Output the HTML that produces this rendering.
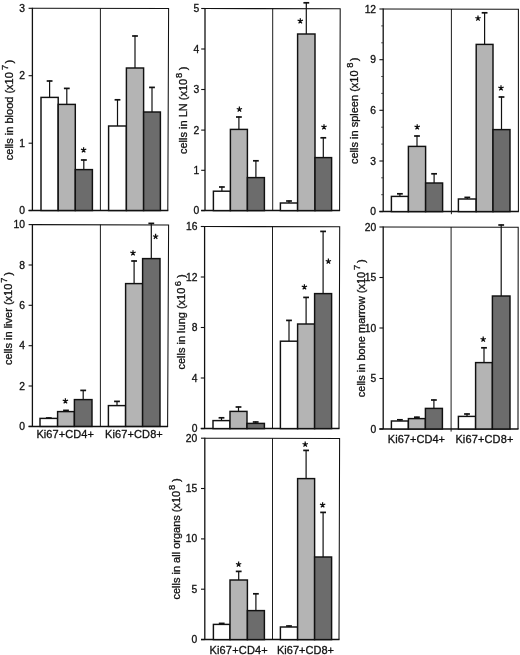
<!DOCTYPE html>
<html><head><meta charset="utf-8"><title>Ki67 cell counts</title>
<style>
html,body{margin:0;padding:0;background:#fff;}
svg{display:block;filter:grayscale(1);}
text{font-family:"Liberation Sans",sans-serif;fill:#111;stroke:#111;stroke-width:0.3px;}
.t{font-size:10.3px;}
.yl{font-size:11px;}
.sup{font-size:9.3px;}
.xl{font-size:11px;}
</style></head><body>
<svg width="520" height="655" viewBox="0 0 520 655">
<rect width="520" height="655" fill="#fff"/>
<g id="blood"><path d="M32.4 8.3L168.6 8.600000000000001L167.8 210.5" fill="none" stroke="#111" stroke-width="1.05" stroke-linejoin="miter"/><path d="M32.4 7.800000000000001L32.4 210.5" fill="none" stroke="#111" stroke-width="1.3"/><path d="M28.599999999999998 210.5L168.3 210.5" fill="none" stroke="#111" stroke-width="1.5"/><line x1="100.4" y1="8.3" x2="100.4" y2="210.5" stroke="#111" stroke-width="0.95"/><line x1="28.599999999999998" y1="210.5" x2="32.4" y2="210.5" stroke="#111" stroke-width="1.1"/><text x="25.0" y="214.0" text-anchor="end" class="t">0</text><line x1="28.599999999999998" y1="143.2" x2="32.4" y2="143.2" stroke="#111" stroke-width="1.1"/><text x="25.0" y="146.7" text-anchor="end" class="t">1</text><line x1="28.599999999999998" y1="75.7" x2="32.4" y2="75.7" stroke="#111" stroke-width="1.1"/><text x="25.0" y="79.2" text-anchor="end" class="t">2</text><line x1="28.599999999999998" y1="8.3" x2="32.4" y2="8.3" stroke="#111" stroke-width="1.1"/><text x="25.0" y="11.8" text-anchor="end" class="t">3</text><line x1="49.6" y1="97.4" x2="49.6" y2="80.6" stroke="#111" stroke-width="1.2"/><line x1="46.7" y1="81.0" x2="52.5" y2="81.0" stroke="#111" stroke-width="1.7"/><rect x="41" y="97.4" width="17.2" height="113.1" fill="#ffffff" stroke="#111" stroke-width="1.45"/><line x1="66.8" y1="104.4" x2="66.8" y2="88" stroke="#111" stroke-width="1.2"/><line x1="63.9" y1="88.4" x2="69.7" y2="88.4" stroke="#111" stroke-width="1.7"/><rect x="58.2" y="104.4" width="17.1" height="106.1" fill="#b4b4b4" stroke="#111" stroke-width="1.45"/><line x1="83.8" y1="169.6" x2="83.8" y2="159.6" stroke="#111" stroke-width="1.2"/><line x1="80.9" y1="160.0" x2="86.8" y2="160.0" stroke="#111" stroke-width="1.7"/><rect x="75.3" y="169.6" width="17.1" height="40.9" fill="#6c6c6c" stroke="#111" stroke-width="1.45"/><line x1="117.5" y1="126" x2="117.5" y2="99.4" stroke="#111" stroke-width="1.2"/><line x1="114.6" y1="99.8" x2="120.4" y2="99.8" stroke="#111" stroke-width="1.7"/><rect x="108.6" y="126" width="17.8" height="84.5" fill="#ffffff" stroke="#111" stroke-width="1.45"/><line x1="135.0" y1="68" x2="135.0" y2="35.6" stroke="#111" stroke-width="1.2"/><line x1="132.1" y1="36.0" x2="137.9" y2="36.0" stroke="#111" stroke-width="1.7"/><rect x="126.4" y="68" width="17.2" height="142.5" fill="#b4b4b4" stroke="#111" stroke-width="1.45"/><line x1="152.0" y1="112" x2="152.0" y2="87" stroke="#111" stroke-width="1.2"/><line x1="149.1" y1="87.4" x2="154.9" y2="87.4" stroke="#111" stroke-width="1.7"/><rect x="143.6" y="112" width="16.8" height="98.5" fill="#6c6c6c" stroke="#111" stroke-width="1.45"/><path d="M83.60 150.00L83.60 147.20M83.60 150.00L86.26 149.13M83.60 150.00L85.25 152.27M83.60 150.00L81.95 152.27M83.60 150.00L80.94 149.13" stroke="#111" stroke-width="1.25" fill="none" stroke-linecap="butt"/><circle cx="83.60" cy="150.00" r="0.9" fill="#111"/><text transform="translate(12.8 160.2) rotate(-90)" class="yl">cells in blood (x10<tspan x="90.1" dy="-4.8" class="sup">7</tspan><tspan x="96.7" dy="4.8">)</tspan></text></g>
<g id="LN"><path d="M205 8.5L340.2 8.8L339.6 210.6" fill="none" stroke="#111" stroke-width="1.05" stroke-linejoin="miter"/><path d="M205 8.0L205 210.6" fill="none" stroke="#111" stroke-width="1.3"/><path d="M201.2 210.6L340.1 210.6" fill="none" stroke="#111" stroke-width="1.5"/><line x1="272.7" y1="8.5" x2="272.7" y2="210.6" stroke="#111" stroke-width="0.95"/><line x1="201.2" y1="210.6" x2="205" y2="210.6" stroke="#111" stroke-width="1.1"/><text x="199.3" y="214.1" text-anchor="end" class="t">0</text><line x1="201.2" y1="170.3" x2="205" y2="170.3" stroke="#111" stroke-width="1.1"/><text x="199.3" y="173.8" text-anchor="end" class="t">1</text><line x1="201.2" y1="130.1" x2="205" y2="130.1" stroke="#111" stroke-width="1.1"/><text x="199.3" y="133.6" text-anchor="end" class="t">2</text><line x1="201.2" y1="89.5" x2="205" y2="89.5" stroke="#111" stroke-width="1.1"/><text x="199.3" y="93.0" text-anchor="end" class="t">3</text><line x1="201.2" y1="49" x2="205" y2="49" stroke="#111" stroke-width="1.1"/><text x="199.3" y="52.5" text-anchor="end" class="t">4</text><line x1="201.2" y1="8.5" x2="205" y2="8.5" stroke="#111" stroke-width="1.1"/><text x="199.3" y="12.0" text-anchor="end" class="t">5</text><line x1="221.9" y1="191.2" x2="221.9" y2="186.6" stroke="#111" stroke-width="1.2"/><line x1="219.0" y1="187.0" x2="224.8" y2="187.0" stroke="#111" stroke-width="1.7"/><rect x="213.4" y="191.2" width="17.0" height="19.4" fill="#ffffff" stroke="#111" stroke-width="1.45"/><line x1="238.9" y1="129.4" x2="238.9" y2="116.6" stroke="#111" stroke-width="1.2"/><line x1="236.0" y1="117.0" x2="241.8" y2="117.0" stroke="#111" stroke-width="1.7"/><rect x="230.4" y="129.4" width="17.0" height="81.2" fill="#b4b4b4" stroke="#111" stroke-width="1.45"/><line x1="255.9" y1="177.6" x2="255.9" y2="160.4" stroke="#111" stroke-width="1.2"/><line x1="253.0" y1="160.8" x2="258.8" y2="160.8" stroke="#111" stroke-width="1.7"/><rect x="247.4" y="177.6" width="17.0" height="33.0" fill="#6c6c6c" stroke="#111" stroke-width="1.45"/><line x1="289.0" y1="203" x2="289.0" y2="200.6" stroke="#111" stroke-width="1.2"/><line x1="286.1" y1="201.0" x2="291.9" y2="201.0" stroke="#111" stroke-width="1.7"/><rect x="280.4" y="203" width="17.2" height="7.6" fill="#ffffff" stroke="#111" stroke-width="1.45"/><line x1="306.3" y1="34" x2="306.3" y2="2.4" stroke="#111" stroke-width="1.2"/><line x1="303.4" y1="2.8" x2="309.2" y2="2.8" stroke="#111" stroke-width="1.7"/><rect x="297.6" y="34" width="17.4" height="176.6" fill="#b4b4b4" stroke="#111" stroke-width="1.45"/><line x1="323.3" y1="157.6" x2="323.3" y2="137.4" stroke="#111" stroke-width="1.2"/><line x1="320.4" y1="137.8" x2="326.2" y2="137.8" stroke="#111" stroke-width="1.7"/><rect x="315" y="157.6" width="16.6" height="53.0" fill="#6c6c6c" stroke="#111" stroke-width="1.45"/><path d="M239.40 109.40L239.40 106.60M239.40 109.40L242.06 108.53M239.40 109.40L241.05 111.67M239.40 109.40L237.75 111.67M239.40 109.40L236.74 108.53" stroke="#111" stroke-width="1.25" fill="none" stroke-linecap="butt"/><circle cx="239.40" cy="109.40" r="0.9" fill="#111"/><path d="M300.30 21.00L300.30 18.20M300.30 21.00L302.96 20.13M300.30 21.00L301.95 23.27M300.30 21.00L298.65 23.27M300.30 21.00L297.64 20.13" stroke="#111" stroke-width="1.25" fill="none" stroke-linecap="butt"/><circle cx="300.30" cy="21.00" r="0.9" fill="#111"/><path d="M324.00 127.00L324.00 124.20M324.00 127.00L326.66 126.13M324.00 127.00L325.65 129.27M324.00 127.00L322.35 129.27M324.00 127.00L321.34 126.13" stroke="#111" stroke-width="1.25" fill="none" stroke-linecap="butt"/><circle cx="324.00" cy="127.00" r="0.9" fill="#111"/><text transform="translate(186.9 154) rotate(-90)" class="yl">cells in LN (x10<tspan x="76.1" dy="-4.8" class="sup">8</tspan><tspan x="83.7" dy="4.8">)</tspan></text></g>
<g id="spleen"><path d="M383.2 9L518.4 9.3L518.4 211.6" fill="none" stroke="#111" stroke-width="1.05" stroke-linejoin="miter"/><path d="M383.2 8.5L383.2 211.6" fill="none" stroke="#111" stroke-width="1.3"/><path d="M379.4 211.6L518.9 211.6" fill="none" stroke="#111" stroke-width="1.5"/><line x1="451.4" y1="9" x2="451.4" y2="214.2" stroke="#111" stroke-width="0.95"/><line x1="379.4" y1="211.6" x2="383.2" y2="211.6" stroke="#111" stroke-width="1.1"/><text x="376.1" y="215.1" text-anchor="end" class="t">0</text><line x1="379.4" y1="161" x2="383.2" y2="161" stroke="#111" stroke-width="1.1"/><text x="376.1" y="164.5" text-anchor="end" class="t">3</text><line x1="379.4" y1="110.3" x2="383.2" y2="110.3" stroke="#111" stroke-width="1.1"/><text x="376.1" y="113.8" text-anchor="end" class="t">6</text><line x1="379.4" y1="59.7" x2="383.2" y2="59.7" stroke="#111" stroke-width="1.1"/><text x="376.1" y="63.2" text-anchor="end" class="t">9</text><line x1="379.4" y1="9" x2="383.2" y2="9" stroke="#111" stroke-width="1.1"/><text x="376.1" y="12.5" text-anchor="end" class="t">12</text><line x1="381.2" y1="194.7" x2="383.2" y2="194.7" stroke="#222" stroke-width="0.8"/><line x1="381.2" y1="177.8" x2="383.2" y2="177.8" stroke="#222" stroke-width="0.8"/><line x1="381.2" y1="144.1" x2="383.2" y2="144.1" stroke="#222" stroke-width="0.8"/><line x1="381.2" y1="127.2" x2="383.2" y2="127.2" stroke="#222" stroke-width="0.8"/><line x1="381.2" y1="93.4" x2="383.2" y2="93.4" stroke="#222" stroke-width="0.8"/><line x1="381.2" y1="76.5" x2="383.2" y2="76.5" stroke="#222" stroke-width="0.8"/><line x1="381.2" y1="42.8" x2="383.2" y2="42.8" stroke="#222" stroke-width="0.8"/><line x1="381.2" y1="25.9" x2="383.2" y2="25.9" stroke="#222" stroke-width="0.8"/><line x1="399.9" y1="196.4" x2="399.9" y2="193.4" stroke="#111" stroke-width="1.2"/><line x1="397.0" y1="193.8" x2="402.8" y2="193.8" stroke="#111" stroke-width="1.7"/><rect x="391.4" y="196.4" width="17.0" height="15.2" fill="#ffffff" stroke="#111" stroke-width="1.45"/><line x1="417.0" y1="146.4" x2="417.0" y2="135.6" stroke="#111" stroke-width="1.2"/><line x1="414.1" y1="136.0" x2="419.9" y2="136.0" stroke="#111" stroke-width="1.7"/><rect x="408.4" y="146.4" width="17.2" height="65.2" fill="#b4b4b4" stroke="#111" stroke-width="1.45"/><line x1="434.1" y1="183" x2="434.1" y2="173.4" stroke="#111" stroke-width="1.2"/><line x1="431.2" y1="173.8" x2="437.0" y2="173.8" stroke="#111" stroke-width="1.7"/><rect x="425.6" y="183" width="17.0" height="28.6" fill="#6c6c6c" stroke="#111" stroke-width="1.45"/><line x1="467.3" y1="199" x2="467.3" y2="197" stroke="#111" stroke-width="1.2"/><line x1="464.4" y1="197.4" x2="470.2" y2="197.4" stroke="#111" stroke-width="1.7"/><rect x="458.4" y="199" width="17.8" height="12.6" fill="#ffffff" stroke="#111" stroke-width="1.45"/><line x1="484.6" y1="44.4" x2="484.6" y2="12.4" stroke="#111" stroke-width="1.2"/><line x1="481.7" y1="12.8" x2="487.5" y2="12.8" stroke="#111" stroke-width="1.7"/><rect x="476.2" y="44.4" width="16.8" height="167.2" fill="#b4b4b4" stroke="#111" stroke-width="1.45"/><line x1="501.5" y1="129.6" x2="501.5" y2="96.6" stroke="#111" stroke-width="1.2"/><line x1="498.6" y1="97.0" x2="504.4" y2="97.0" stroke="#111" stroke-width="1.7"/><rect x="493" y="129.6" width="17.0" height="82.0" fill="#6c6c6c" stroke="#111" stroke-width="1.45"/><path d="M417.20 127.00L417.20 124.20M417.20 127.00L419.86 126.13M417.20 127.00L418.85 129.27M417.20 127.00L415.55 129.27M417.20 127.00L414.54 126.13" stroke="#111" stroke-width="1.25" fill="none" stroke-linecap="butt"/><circle cx="417.20" cy="127.00" r="0.9" fill="#111"/><path d="M478.00 18.40L478.00 15.60M478.00 18.40L480.66 17.53M478.00 18.40L479.65 20.67M478.00 18.40L476.35 20.67M478.00 18.40L475.34 17.53" stroke="#111" stroke-width="1.25" fill="none" stroke-linecap="butt"/><circle cx="478.00" cy="18.40" r="0.9" fill="#111"/><path d="M501.00 88.00L501.00 85.20M501.00 88.00L503.66 87.13M501.00 88.00L502.65 90.27M501.00 88.00L499.35 90.27M501.00 88.00L498.34 87.13" stroke="#111" stroke-width="1.25" fill="none" stroke-linecap="butt"/><circle cx="501.00" cy="88.00" r="0.9" fill="#111"/><text transform="translate(358.0 164) rotate(-90)" class="yl">cells in spleen (x10<tspan x="96.2" dy="-4.8" class="sup">8</tspan><tspan x="102.8" dy="4.8">)</tspan></text></g>
<g id="liver"><path d="M32.4 224.6L168.6 224.9L167.6 426.4" fill="none" stroke="#111" stroke-width="1.05" stroke-linejoin="miter"/><path d="M32.4 224.1L32.4 426.4" fill="none" stroke="#111" stroke-width="1.3"/><path d="M28.599999999999998 426.4L168.1 426.4" fill="none" stroke="#111" stroke-width="1.5"/><line x1="100.4" y1="224.6" x2="100.4" y2="426.4" stroke="#111" stroke-width="0.95"/><line x1="28.599999999999998" y1="426.4" x2="32.4" y2="426.4" stroke="#111" stroke-width="1.1"/><text x="25.0" y="429.9" text-anchor="end" class="t">0</text><line x1="28.599999999999998" y1="386" x2="32.4" y2="386" stroke="#111" stroke-width="1.1"/><text x="25.0" y="389.5" text-anchor="end" class="t">2</text><line x1="28.599999999999998" y1="345.7" x2="32.4" y2="345.7" stroke="#111" stroke-width="1.1"/><text x="25.0" y="349.2" text-anchor="end" class="t">4</text><line x1="28.599999999999998" y1="305.3" x2="32.4" y2="305.3" stroke="#111" stroke-width="1.1"/><text x="25.0" y="308.8" text-anchor="end" class="t">6</text><line x1="28.599999999999998" y1="265" x2="32.4" y2="265" stroke="#111" stroke-width="1.1"/><text x="25.0" y="268.5" text-anchor="end" class="t">8</text><line x1="28.599999999999998" y1="224.6" x2="32.4" y2="224.6" stroke="#111" stroke-width="1.1"/><text x="25.0" y="228.1" text-anchor="end" class="t">10</text><line x1="48.8" y1="418.4" x2="48.8" y2="417.6" stroke="#111" stroke-width="1.2"/><line x1="45.9" y1="418.0" x2="51.7" y2="418.0" stroke="#111" stroke-width="1.7"/><rect x="40" y="418.4" width="17.6" height="8.0" fill="#ffffff" stroke="#111" stroke-width="1.45"/><line x1="66.0" y1="411.6" x2="66.0" y2="410" stroke="#111" stroke-width="1.2"/><line x1="63.1" y1="410.4" x2="68.9" y2="410.4" stroke="#111" stroke-width="1.7"/><rect x="57.6" y="411.6" width="16.8" height="14.8" fill="#b4b4b4" stroke="#111" stroke-width="1.45"/><line x1="83.2" y1="399.6" x2="83.2" y2="390" stroke="#111" stroke-width="1.2"/><line x1="80.3" y1="390.4" x2="86.1" y2="390.4" stroke="#111" stroke-width="1.7"/><rect x="74.4" y="399.6" width="17.6" height="26.8" fill="#6c6c6c" stroke="#111" stroke-width="1.45"/><line x1="117.0" y1="405.6" x2="117.0" y2="401" stroke="#111" stroke-width="1.2"/><line x1="114.1" y1="401.4" x2="119.9" y2="401.4" stroke="#111" stroke-width="1.7"/><rect x="108.4" y="405.6" width="17.2" height="20.8" fill="#ffffff" stroke="#111" stroke-width="1.45"/><line x1="134.1" y1="283.6" x2="134.1" y2="260.6" stroke="#111" stroke-width="1.2"/><line x1="131.2" y1="261.0" x2="137.0" y2="261.0" stroke="#111" stroke-width="1.7"/><rect x="125.6" y="283.6" width="17.0" height="142.8" fill="#b4b4b4" stroke="#111" stroke-width="1.45"/><line x1="151.3" y1="258.6" x2="151.3" y2="223" stroke="#111" stroke-width="1.2"/><line x1="148.4" y1="223.4" x2="154.2" y2="223.4" stroke="#111" stroke-width="1.7"/><rect x="142.6" y="258.6" width="17.4" height="167.8" fill="#6c6c6c" stroke="#111" stroke-width="1.45"/><path d="M65.40 401.00L65.40 398.20M65.40 401.00L68.06 400.13M65.40 401.00L67.05 403.27M65.40 401.00L63.75 403.27M65.40 401.00L62.74 400.13" stroke="#111" stroke-width="1.25" fill="none" stroke-linecap="butt"/><circle cx="65.40" cy="401.00" r="0.9" fill="#111"/><path d="M133.00 253.00L133.00 250.20M133.00 253.00L135.66 252.13M133.00 253.00L134.65 255.27M133.00 253.00L131.35 255.27M133.00 253.00L130.34 252.13" stroke="#111" stroke-width="1.25" fill="none" stroke-linecap="butt"/><circle cx="133.00" cy="253.00" r="0.9" fill="#111"/><path d="M155.60 236.60L155.60 233.80M155.60 236.60L158.26 235.73M155.60 236.60L157.25 238.87M155.60 236.60L153.95 238.87M155.60 236.60L152.94 235.73" stroke="#111" stroke-width="1.25" fill="none" stroke-linecap="butt"/><circle cx="155.60" cy="236.60" r="0.9" fill="#111"/><text transform="translate(12.2 365) rotate(-90)" class="yl">cells in liver (x10<tspan x="82.2" dy="-4.8" class="sup">7</tspan><tspan x="89.2" dy="4.8">)</tspan></text><text x="36.4" y="438.4" class="xl" textLength="57.6" lengthAdjust="spacing">Ki67+CD4+</text><text x="105.0" y="438.4" class="xl" textLength="57.8" lengthAdjust="spacing">Ki67+CD8+</text></g>
<g id="lung"><path d="M204.6 226.5L339.7 226.8L339 428.6" fill="none" stroke="#111" stroke-width="1.05" stroke-linejoin="miter"/><path d="M204.6 226.0L204.6 428.6" fill="none" stroke="#111" stroke-width="1.3"/><path d="M200.79999999999998 428.6L339.5 428.6" fill="none" stroke="#111" stroke-width="1.5"/><line x1="272.5" y1="226.5" x2="272.5" y2="428.6" stroke="#111" stroke-width="0.95"/><line x1="200.79999999999998" y1="428.6" x2="204.6" y2="428.6" stroke="#111" stroke-width="1.1"/><text x="197.4" y="432.1" text-anchor="end" class="t">0</text><line x1="200.79999999999998" y1="378" x2="204.6" y2="378" stroke="#111" stroke-width="1.1"/><text x="197.4" y="381.5" text-anchor="end" class="t">4</text><line x1="200.79999999999998" y1="327.5" x2="204.6" y2="327.5" stroke="#111" stroke-width="1.1"/><text x="197.4" y="331.0" text-anchor="end" class="t">8</text><line x1="200.79999999999998" y1="277" x2="204.6" y2="277" stroke="#111" stroke-width="1.1"/><text x="197.4" y="280.5" text-anchor="end" class="t">12</text><line x1="200.79999999999998" y1="226.5" x2="204.6" y2="226.5" stroke="#111" stroke-width="1.1"/><text x="197.4" y="230.0" text-anchor="end" class="t">16</text><line x1="221.5" y1="420.6" x2="221.5" y2="417.4" stroke="#111" stroke-width="1.2"/><line x1="218.6" y1="417.8" x2="224.4" y2="417.8" stroke="#111" stroke-width="1.7"/><rect x="213" y="420.6" width="17.0" height="8.0" fill="#ffffff" stroke="#111" stroke-width="1.45"/><line x1="238.5" y1="411.4" x2="238.5" y2="406.6" stroke="#111" stroke-width="1.2"/><line x1="235.6" y1="407.0" x2="241.4" y2="407.0" stroke="#111" stroke-width="1.7"/><rect x="230" y="411.4" width="17.0" height="17.2" fill="#b4b4b4" stroke="#111" stroke-width="1.45"/><line x1="255.7" y1="423.4" x2="255.7" y2="421.6" stroke="#111" stroke-width="1.2"/><line x1="252.8" y1="422.0" x2="258.6" y2="422.0" stroke="#111" stroke-width="1.7"/><rect x="247" y="423.4" width="17.4" height="5.2" fill="#6c6c6c" stroke="#111" stroke-width="1.45"/><line x1="289.0" y1="341.2" x2="289.0" y2="320" stroke="#111" stroke-width="1.2"/><line x1="286.1" y1="320.4" x2="291.9" y2="320.4" stroke="#111" stroke-width="1.7"/><rect x="280.4" y="341.2" width="17.2" height="87.4" fill="#ffffff" stroke="#111" stroke-width="1.45"/><line x1="306.1" y1="324" x2="306.1" y2="297" stroke="#111" stroke-width="1.2"/><line x1="303.2" y1="297.4" x2="309.0" y2="297.4" stroke="#111" stroke-width="1.7"/><rect x="297.6" y="324" width="17.0" height="104.6" fill="#b4b4b4" stroke="#111" stroke-width="1.45"/><line x1="323.1" y1="293.6" x2="323.1" y2="231" stroke="#111" stroke-width="1.2"/><line x1="320.2" y1="231.4" x2="326.0" y2="231.4" stroke="#111" stroke-width="1.7"/><rect x="314.6" y="293.6" width="17.0" height="135.0" fill="#6c6c6c" stroke="#111" stroke-width="1.45"/><path d="M304.40 287.00L304.40 284.20M304.40 287.00L307.06 286.13M304.40 287.00L306.05 289.27M304.40 287.00L302.75 289.27M304.40 287.00L301.74 286.13" stroke="#111" stroke-width="1.25" fill="none" stroke-linecap="butt"/><circle cx="304.40" cy="287.00" r="0.9" fill="#111"/><path d="M328.40 261.40L328.40 258.60M328.40 261.40L331.06 260.53M328.40 261.40L330.05 263.67M328.40 261.40L326.75 263.67M328.40 261.40L325.74 260.53" stroke="#111" stroke-width="1.25" fill="none" stroke-linecap="butt"/><circle cx="328.40" cy="261.40" r="0.9" fill="#111"/><text transform="translate(185.3 369.6) rotate(-90)" class="yl">cells in lung (x10<tspan x="83.4" dy="-4.8" class="sup">6</tspan><tspan x="91.7" dy="4.8">)</tspan></text></g>
<g id="bm"><path d="M383.2 227L518.2 227.3L518 429" fill="none" stroke="#111" stroke-width="1.05" stroke-linejoin="miter"/><path d="M383.2 226.5L383.2 429" fill="none" stroke="#111" stroke-width="1.3"/><path d="M379.4 429L518.5 429" fill="none" stroke="#111" stroke-width="1.5"/><line x1="451.1" y1="227" x2="451.1" y2="431.6" stroke="#111" stroke-width="0.95"/><line x1="379.4" y1="429" x2="383.2" y2="429" stroke="#111" stroke-width="1.1"/><text x="376.2" y="432.5" text-anchor="end" class="t">0</text><line x1="379.4" y1="378.5" x2="383.2" y2="378.5" stroke="#111" stroke-width="1.1"/><text x="376.2" y="382.0" text-anchor="end" class="t">5</text><line x1="379.4" y1="328" x2="383.2" y2="328" stroke="#111" stroke-width="1.1"/><text x="376.2" y="331.5" text-anchor="end" class="t">10</text><line x1="379.4" y1="277.5" x2="383.2" y2="277.5" stroke="#111" stroke-width="1.1"/><text x="376.2" y="281.0" text-anchor="end" class="t">15</text><line x1="379.4" y1="227" x2="383.2" y2="227" stroke="#111" stroke-width="1.1"/><text x="376.2" y="230.5" text-anchor="end" class="t">20</text><line x1="399.9" y1="421" x2="399.9" y2="419.4" stroke="#111" stroke-width="1.2"/><line x1="397.0" y1="419.8" x2="402.8" y2="419.8" stroke="#111" stroke-width="1.7"/><rect x="391.4" y="421" width="17.0" height="8.0" fill="#ffffff" stroke="#111" stroke-width="1.45"/><line x1="416.9" y1="418.6" x2="416.9" y2="416.8" stroke="#111" stroke-width="1.2"/><line x1="414.0" y1="417.2" x2="419.8" y2="417.2" stroke="#111" stroke-width="1.7"/><rect x="408.4" y="418.6" width="17.0" height="10.4" fill="#b4b4b4" stroke="#111" stroke-width="1.45"/><line x1="433.9" y1="408.4" x2="433.9" y2="399.6" stroke="#111" stroke-width="1.2"/><line x1="431.0" y1="400.0" x2="436.8" y2="400.0" stroke="#111" stroke-width="1.7"/><rect x="425.4" y="408.4" width="17.0" height="20.6" fill="#6c6c6c" stroke="#111" stroke-width="1.45"/><line x1="467.0" y1="416.4" x2="467.0" y2="413.6" stroke="#111" stroke-width="1.2"/><line x1="464.1" y1="414.0" x2="469.9" y2="414.0" stroke="#111" stroke-width="1.7"/><rect x="458.4" y="416.4" width="17.2" height="12.6" fill="#ffffff" stroke="#111" stroke-width="1.45"/><line x1="484.0" y1="362.6" x2="484.0" y2="347.4" stroke="#111" stroke-width="1.2"/><line x1="481.1" y1="347.8" x2="486.9" y2="347.8" stroke="#111" stroke-width="1.7"/><rect x="475.6" y="362.6" width="16.8" height="66.4" fill="#b4b4b4" stroke="#111" stroke-width="1.45"/><line x1="501.2" y1="296" x2="501.2" y2="224.6" stroke="#111" stroke-width="1.2"/><line x1="498.3" y1="225.0" x2="504.1" y2="225.0" stroke="#111" stroke-width="1.7"/><rect x="492.4" y="296" width="17.6" height="133.0" fill="#6c6c6c" stroke="#111" stroke-width="1.45"/><path d="M483.20 339.40L483.20 336.60M483.20 339.40L485.86 338.53M483.20 339.40L484.85 341.67M483.20 339.40L481.55 341.67M483.20 339.40L480.54 338.53" stroke="#111" stroke-width="1.25" fill="none" stroke-linecap="butt"/><circle cx="483.20" cy="339.40" r="0.9" fill="#111"/><text transform="translate(365.2 397.2) rotate(-90)" class="yl">cells in bone marrow (x10<tspan x="127.3" dy="-4.8" class="sup">7</tspan><tspan x="134.1" dy="4.8">)</tspan></text><text x="387.8" y="442.7" class="xl" textLength="57.2" lengthAdjust="spacing">Ki67+CD4+</text><text x="455.4" y="442.7" class="xl" textLength="58.0" lengthAdjust="spacing">Ki67+CD8+</text></g>
<g id="all"><path d="M204.8 438.2L339.6 438.5L339 639.6" fill="none" stroke="#111" stroke-width="1.05" stroke-linejoin="miter"/><path d="M204.8 437.7L204.8 639.6" fill="none" stroke="#111" stroke-width="1.3"/><path d="M201.0 639.6L339.5 639.6" fill="none" stroke="#111" stroke-width="1.5"/><line x1="272.5" y1="438.2" x2="272.5" y2="639.6" stroke="#111" stroke-width="0.95"/><line x1="201.0" y1="639.6" x2="204.8" y2="639.6" stroke="#111" stroke-width="1.1"/><text x="197.3" y="643.1" text-anchor="end" class="t">0</text><line x1="201.0" y1="589.2" x2="204.8" y2="589.2" stroke="#111" stroke-width="1.1"/><text x="197.3" y="592.7" text-anchor="end" class="t">5</text><line x1="201.0" y1="538.9" x2="204.8" y2="538.9" stroke="#111" stroke-width="1.1"/><text x="197.3" y="542.4" text-anchor="end" class="t">10</text><line x1="201.0" y1="488.5" x2="204.8" y2="488.5" stroke="#111" stroke-width="1.1"/><text x="197.3" y="492.0" text-anchor="end" class="t">15</text><line x1="201.0" y1="438.2" x2="204.8" y2="438.2" stroke="#111" stroke-width="1.1"/><text x="197.3" y="441.7" text-anchor="end" class="t">20</text><line x1="221.7" y1="624.4" x2="221.7" y2="623" stroke="#111" stroke-width="1.2"/><line x1="218.8" y1="623.4" x2="224.6" y2="623.4" stroke="#111" stroke-width="1.7"/><rect x="213.4" y="624.4" width="16.6" height="15.2" fill="#ffffff" stroke="#111" stroke-width="1.45"/><line x1="238.7" y1="580" x2="238.7" y2="571" stroke="#111" stroke-width="1.2"/><line x1="235.8" y1="571.4" x2="241.6" y2="571.4" stroke="#111" stroke-width="1.7"/><rect x="230" y="580" width="17.4" height="59.6" fill="#b4b4b4" stroke="#111" stroke-width="1.45"/><line x1="255.9" y1="610.6" x2="255.9" y2="593.4" stroke="#111" stroke-width="1.2"/><line x1="253.0" y1="593.8" x2="258.8" y2="593.8" stroke="#111" stroke-width="1.7"/><rect x="247.4" y="610.6" width="17.0" height="29.0" fill="#6c6c6c" stroke="#111" stroke-width="1.45"/><line x1="289.0" y1="627" x2="289.0" y2="625.6" stroke="#111" stroke-width="1.2"/><line x1="286.1" y1="626.0" x2="291.9" y2="626.0" stroke="#111" stroke-width="1.7"/><rect x="280.4" y="627" width="17.2" height="12.6" fill="#ffffff" stroke="#111" stroke-width="1.45"/><line x1="306.1" y1="478.6" x2="306.1" y2="450" stroke="#111" stroke-width="1.2"/><line x1="303.2" y1="450.4" x2="309.0" y2="450.4" stroke="#111" stroke-width="1.7"/><rect x="297.6" y="478.6" width="17.0" height="161.0" fill="#b4b4b4" stroke="#111" stroke-width="1.45"/><line x1="323.1" y1="557" x2="323.1" y2="512" stroke="#111" stroke-width="1.2"/><line x1="320.2" y1="512.4" x2="326.0" y2="512.4" stroke="#111" stroke-width="1.7"/><rect x="314.6" y="557" width="17.0" height="82.6" fill="#6c6c6c" stroke="#111" stroke-width="1.45"/><path d="M238.60 564.40L238.60 561.60M238.60 564.40L241.26 563.53M238.60 564.40L240.25 566.67M238.60 564.40L236.95 566.67M238.60 564.40L235.94 563.53" stroke="#111" stroke-width="1.25" fill="none" stroke-linecap="butt"/><circle cx="238.60" cy="564.40" r="0.9" fill="#111"/><path d="M305.20 444.40L305.20 441.60M305.20 444.40L307.86 443.53M305.20 444.40L306.85 446.67M305.20 444.40L303.55 446.67M305.20 444.40L302.54 443.53" stroke="#111" stroke-width="1.25" fill="none" stroke-linecap="butt"/><circle cx="305.20" cy="444.40" r="0.9" fill="#111"/><path d="M322.60 505.00L322.60 502.20M322.60 505.00L325.26 504.13M322.60 505.00L324.25 507.27M322.60 505.00L320.95 507.27M322.60 505.00L319.94 504.13" stroke="#111" stroke-width="1.25" fill="none" stroke-linecap="butt"/><circle cx="322.60" cy="505.00" r="0.9" fill="#111"/><text transform="translate(180.1 599.6) rotate(-90)" class="yl">cells in all organs (x10<tspan x="109.7" dy="-4.8" class="sup">8</tspan><tspan x="117.6" dy="4.8">)</tspan></text><text x="209.4" y="654.1" class="xl" textLength="58.4" lengthAdjust="spacing">Ki67+CD4+</text><text x="277.0" y="654.1" class="xl" textLength="57.0" lengthAdjust="spacing">Ki67+CD8+</text></g>
</svg>
</body></html>
